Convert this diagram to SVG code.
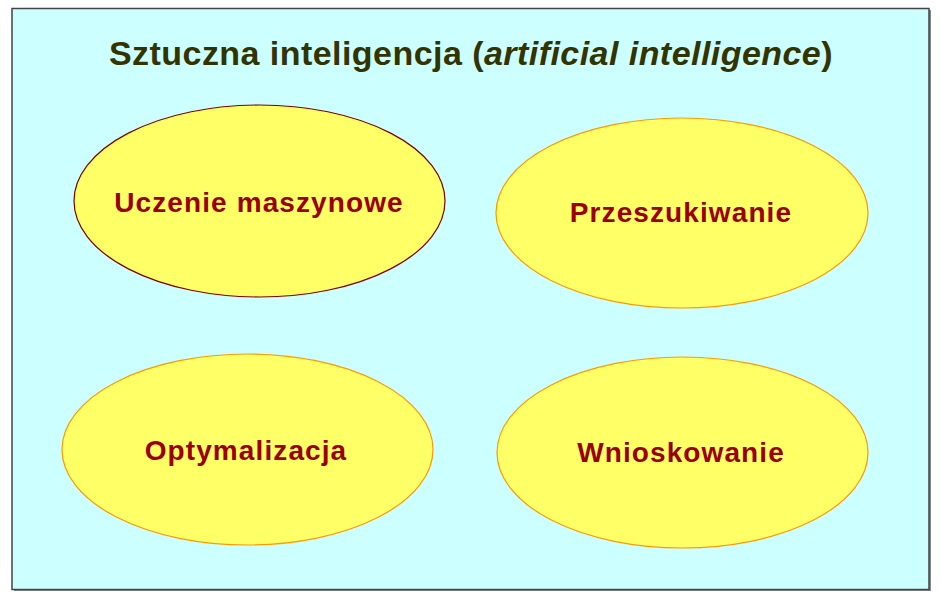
<svg xmlns="http://www.w3.org/2000/svg" width="940" height="600" viewBox="0 0 940 600">
<style>
.node ellipse { fill: #FFFF66; stroke-width: 1.2; }
.lbl { font-family: "Liberation Sans", Arial, sans-serif; font-weight: bold; font-size: 28px; letter-spacing: 1.1px; fill: #990000; text-anchor: middle; }
.title { font-family: "Liberation Sans", Arial, sans-serif; font-weight: bold; font-size: 34px; letter-spacing: 0.45px; fill: #333300; text-anchor: middle; }
</style>
<rect x="0" y="0" width="940" height="600" fill="#FFFFFF"/>
<rect x="14" y="10" width="917" height="581" fill="#888888"/>
<rect x="12" y="8.5" width="917" height="581" fill="#CCFFFF" stroke="#444444" stroke-width="1.5"/>
<text class="title" x="471" y="65">Sztuczna inteligencja (<tspan font-style="italic">artificial intelligence</tspan>)</text>
<g id="connectors"></g>
<g id="uczenie" class="node">
<ellipse cx="259.5" cy="201" rx="185.5" ry="96" stroke="#800000"/>
<text class="lbl" x="259" y="212">Uczenie maszynowe</text>
</g>
<g id="przeszukiwanie" class="node">
<ellipse cx="682" cy="213" rx="186" ry="95" stroke="#FF9900"/>
<text class="lbl" x="681" y="222">Przeszukiwanie</text>
</g>
<g id="optymalizacja" class="node">
<ellipse cx="247.5" cy="449.5" rx="185.5" ry="95.5" stroke="#FF9900"/>
<text class="lbl" x="246" y="460">Optymalizacja</text>
</g>
<g id="wnioskowanie" class="node">
<ellipse cx="682.5" cy="452.5" rx="185.5" ry="95.5" stroke="#FF9900"/>
<text class="lbl" x="681" y="462">Wnioskowanie</text>
</g>
</svg>
